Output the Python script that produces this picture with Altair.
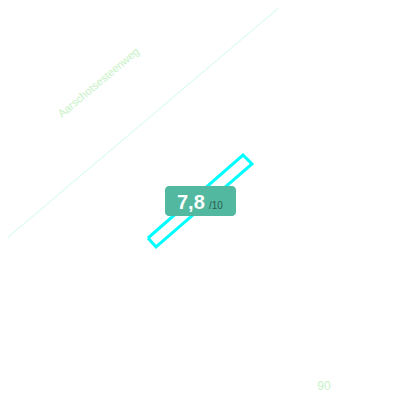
import altair as alt
import pandas as pd

# Map-like overlay, coordinates in screen-space units
road_x = [0, 288]
road_y = [244, 0]

parcel_x = [148, 156, 252, 243, 148]
parcel_y = [238, 247, 164, 155, 238]
parcel_order = [0, 1, 2, 3, 4]

badge_box = {"x": 165, "x2": 236, "y": 186, "y2": 216}
score_label = "7,8"
score_suffix = "/10"
street_name = "Aarschotsesteenweg"
house_number = "90"

X = alt.Scale(domain=[8, 392], nice=False, zero=False)
Y = alt.Scale(domain=[8, 384], nice=False, zero=False, reverse=True)
ax = None

road = alt.Chart(pd.DataFrame({"x": road_x, "y": road_y, "o": [0, 1]})).mark_line(
    color="#ccfbee", strokeWidth=1, clip=False
).encode(
    x=alt.X("x:Q", scale=X, axis=ax),
    y=alt.Y("y:Q", scale=Y, axis=ax),
    order="o:O",
)

parcel = alt.Chart(
    pd.DataFrame({"x": parcel_x, "y": parcel_y, "o": parcel_order})
).mark_line(color="#00ffff", strokeWidth=3, strokeJoin="miter").encode(
    x=alt.X("x:Q", scale=X, axis=ax),
    y=alt.Y("y:Q", scale=Y, axis=ax),
    order="o:O",
)

badge = alt.Chart(pd.DataFrame([badge_box])).mark_rect(
    color="#52b8a0", cornerRadius=4
).encode(
    x=alt.X("x:Q", scale=X, axis=ax),
    x2="x2:Q",
    y=alt.Y("y:Q", scale=Y, axis=ax),
    y2="y2:Q",
)

score = alt.Chart(pd.DataFrame({"x": [177], "y": [209], "t": [score_label]})).mark_text(
    align="left", baseline="alphabetic", fontSize=20, fontWeight="bold",
    color="white", font="Liberation Sans"
).encode(
    x=alt.X("x:Q", scale=X, axis=ax),
    y=alt.Y("y:Q", scale=Y, axis=ax),
    text="t:N",
)

suffix = alt.Chart(pd.DataFrame({"x": [209], "y": [209], "t": [score_suffix]})).mark_text(
    align="left", baseline="alphabetic", fontSize=10,
    color="#2e5c50", font="Liberation Sans"
).encode(
    x=alt.X("x:Q", scale=X, axis=ax),
    y=alt.Y("y:Q", scale=Y, axis=ax),
    text="t:N",
)

street = alt.Chart(pd.DataFrame({"x": [99], "y": [83], "t": [street_name]})).mark_text(
    align="center", baseline="middle", fontSize=11, angle=320,
    color="#c6f2c6", font="Liberation Sans"
).encode(
    x=alt.X("x:Q", scale=X, axis=ax),
    y=alt.Y("y:Q", scale=Y, axis=ax),
    text="t:N",
)

number = alt.Chart(pd.DataFrame({"x": [324], "y": [385.5], "t": [house_number]})).mark_text(
    align="center", baseline="middle", fontSize=12,
    color="#c6f2c6", font="Liberation Sans"
).encode(
    x=alt.X("x:Q", scale=X, axis=ax),
    y=alt.Y("y:Q", scale=Y, axis=ax),
    text="t:N",
)

chart = alt.layer(road, parcel, badge, score, suffix, street, number).properties(
    width=384, height=376, autosize="none",
    padding={"left": 0, "top": 0, "right": 0, "bottom": 8},
).configure_view(stroke=None)

chart.save("out.html", embed_options={"renderer": "svg", "actions": False})
